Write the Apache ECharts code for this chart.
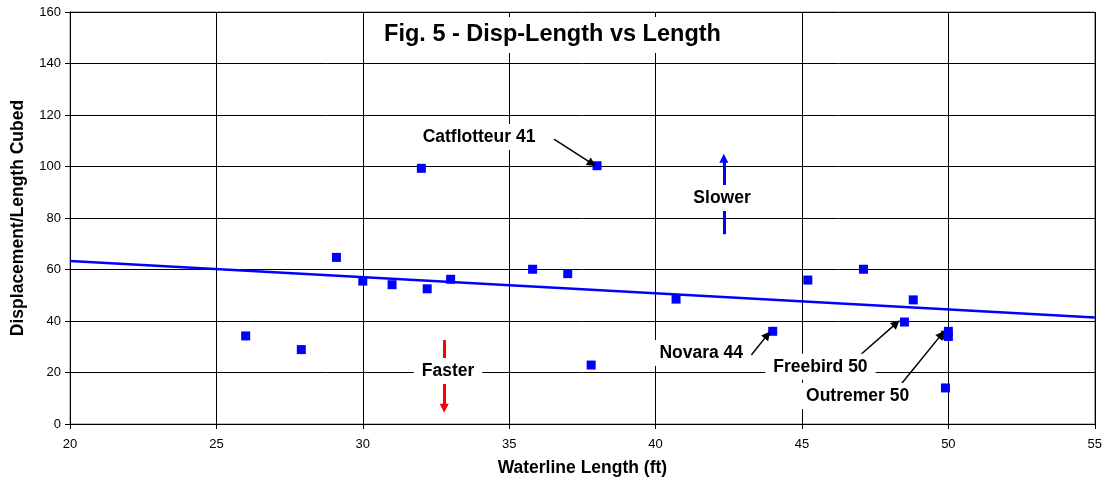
<!DOCTYPE html>
<html><head><meta charset="utf-8">
<script src="https://cdn.jsdelivr.net/npm/echarts@6/dist/echarts.min.js"></script>
<style>html,body{margin:0;padding:0;background:#fff}#c{width:1105px;height:485px}</style>
</head><body><div id="c"></div>
<script>
// Boat data: waterline length (ft) vs displacement/length cubed
const boatLength   = [26.0, 27.9, 29.1, 30.0, 31.0, 32.0, 32.2, 33.0, 35.8, 37.0, 37.8, 38.0, 40.7, 44.0, 45.2, 47.1, 48.5, 48.8, 49.9, 50.0, 50.0, 49.9];
const dispLenRatio = [34.2, 28.9, 64.7, 55.5, 54.1, 99.3, 52.5, 56.2, 60.1, 58.4, 22.9, 100.3, 48.5, 36.0, 55.9, 60.1, 39.6, 48.2, 34.5, 36.0, 34.0, 14.0];
// Trend line end points
const trendLength = [20, 55];
const trendRatio  = [63.3, 41.4];
// Axis ranges [min, max, interval]
const xRange = [20, 55, 5];
const yRange = [0, 160, 20];
// Annotations
const noteTexts  = ['Catflotteur 41', 'Slower', 'Faster', 'Novara 44', 'Freebird 50', 'Outremer 50'];
const noteLength = [33.97, 42.27, 32.91, 41.56, 45.63, 46.9];
const noteRatio  = [111.5, 87.8, 20.6, 27.6, 22.25, 10.9];
const arrowStart = [[36.53, 110.6], [42.33, 73.7], [32.78, 32.6], [43.27, 26.8], [47.02, 27.07], [48.41, 15.8]];
const arrowEnd   = [[37.83, 101.1], [42.33, 103.2], [32.78, 6.1], [43.82, 34.6], [48.22, 39.1], [49.77, 34.8]];
const arrowColors = ['#000', '#0000ff', '#ff0000', '#000', '#000', '#000'];
const arrowWidths = [1.5, 3, 3, 1.5, 1.5, 1.5];

const FONT = '"Liberation Sans", Arial, sans-serif';
const chart = echarts.init(document.getElementById('c'), null, {renderer: 'canvas'});

const axisCommon = {
  type: 'value',
  nameLocation: 'middle',
  nameTextStyle: {fontSize: 17.5, fontWeight: 'bold', color: '#000', fontFamily: FONT},
  axisLine: {show: true, onZero: false, lineStyle: {color: '#000', width: 1}},
  axisTick: {show: true, length: 5, lineStyle: {color: '#000'}},
  axisLabel: {color: '#000', fontSize: 13, fontFamily: FONT},
  splitLine: {show: true, lineStyle: {color: '#000', width: 1}}
};

const option = {
  animation: false,
  textStyle: {fontFamily: FONT},
  title: {
    text: 'Fig. 5 - Disp-Length vs Length',
    left: 'center', top: 17, padding: [6, 10], backgroundColor: '#fff',
    textStyle: {fontSize: 23.5, fontWeight: 'bold', color: '#000', fontFamily: FONT}
  },
  grid: {left: 70, right: 8, top: 12, bottom: 61, show: true, borderColor: '#808080', borderWidth: 1},
  xAxis: Object.assign({}, axisCommon, {
    min: xRange[0], max: xRange[1], interval: xRange[2],
    name: 'Waterline Length (ft)', nameGap: 35,
    axisLabel: Object.assign({}, axisCommon.axisLabel, {margin: 14})
  }),
  yAxis: Object.assign({}, axisCommon, {
    min: yRange[0], max: yRange[1], interval: yRange[2],
    name: 'Displacement/Length Cubed', nameGap: 43,
    axisLabel: Object.assign({}, axisCommon.axisLabel, {margin: 9})
  }),
  series: [
    {
      type: 'line', name: 'trend', z: 2,
      data: trendLength.map((x, i) => [x, trendRatio[i]]),
      showSymbol: false, symbol: 'none',
      lineStyle: {color: '#0000ff', width: 2.5, opacity: 1},
      silent: true
    },
    {
      type: 'scatter', name: 'boats', z: 3,
      data: boatLength.map((x, i) => [x, dispLenRatio[i]]),
      symbol: 'rect', symbolSize: 9,
      itemStyle: {color: '#0000ff', opacity: 1},
      silent: true
    },
    {
      type: 'scatter', name: 'arrows', z: 4,
      data: [],
      markLine: {
        silent: true, animation: false,
        symbol: ['none', 'triangle'], symbolSize: 9,
        label: {show: false},
        emphasis: {disabled: true},
        data: arrowStart.map((s, i) => [
          {coord: s, lineStyle: {color: arrowColors[i], width: arrowWidths[i], type: 'solid', opacity: 1}, itemStyle: {color: arrowColors[i], opacity: 1}},
          {coord: arrowEnd[i]}
        ])
      }
    },
    {
      type: 'scatter', name: 'notes', z: 10,
      data: noteTexts.map((t, i) => [noteLength[i], noteRatio[i], t]),
      symbolSize: 1,
      itemStyle: {color: '#fff', opacity: 1},
      silent: true,
      label: {
        show: true, position: 'inside',
        formatter: p => p.value[2],
        fontSize: 17.5, fontWeight: 'bold', color: '#000', fontFamily: FONT,
        backgroundColor: '#fff', padding: [4, 8], opacity: 1
      }
    }
  ]
};
chart.setOption(option);
</script>
</body></html>
